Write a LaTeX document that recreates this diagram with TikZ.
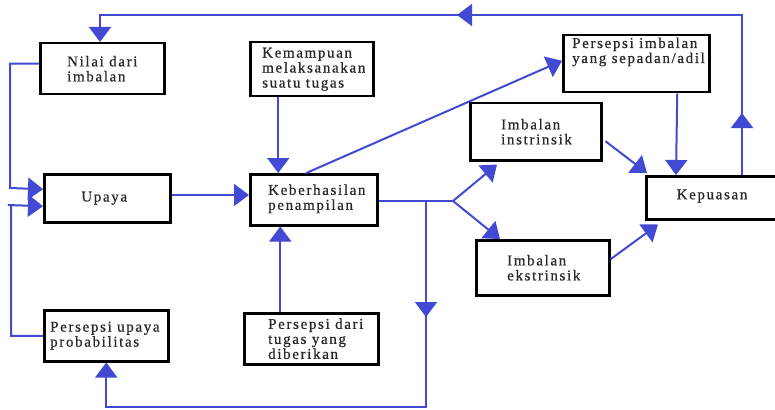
\documentclass[tikz,border=0pt]{standalone}
\usepackage{fontspec}
\setmainfont{Liberation Serif}[LetterSpace=11,FakeBold=0.6]
\usetikzlibrary{arrows.meta,decorations.markings}
\definecolor{flow}{RGB}{66,74,212}
\definecolor{ink}{RGB}{40,40,40}
\tikzset{
  x=1pt, y=-1pt,
  box/.style={draw=black, line width=2.5pt, fill=white, inner sep=0pt,
    anchor=north west},
  txt/.style={text=ink, inner sep=0pt, align=left,
    font=\fontsize{15}{15}\selectfont},
  link/.style={draw=flow, line width=2pt},
  tip/.style={-{Triangle[length=15pt,width=22pt]}},
  midtip/.style={postaction={decorate, decoration={markings,
    mark=at position #1 with {\arrow{Triangle[length=15pt,width=22pt]}}}}}
}
\begin{document}
\begin{tikzpicture}
\useasboundingbox (0,0) rectangle (775,409);

% boxes
\node[box, minimum width=124pt, minimum height=51pt] (nilai) at (39,42) {};
\node[box, minimum width=126pt, minimum height=48pt] (upaya) at (43,173) {};
\node[box, minimum width=123pt, minimum height=54pt] (kemampuan) at (249,41) {};
\node[box, minimum width=127pt, minimum height=51pt] (hasil) at (249,173) {};
\node[box, minimum width=124pt, minimum height=51pt] (probab) at (43,309) {};
\node[box, minimum width=134pt, minimum height=51pt] (tugas) at (243,312) {};
\node[box, minimum width=146pt, minimum height=57pt] (adil) at (562,34) {};
\node[box, minimum width=131pt, minimum height=57pt] (intrin) at (469,102) {};
\node[box, minimum width=133pt, minimum height=55pt] (ekstrin) at (475,239) {};
\node[box, minimum width=140pt, minimum height=43pt] (puas) at (645,175) {};

% texts
\node[txt, anchor=west] (nilaiT) at ([xshift=28pt]nilai.west) {Nilai dari\\imbalan};
\node[txt] (upayaT) at ([xshift=-3pt]upaya.center) {Upaya};
\node[txt, anchor=west] (kemampuanT) at ([xshift=13pt]kemampuan.west) {Kemampuan\\melaksanakan\\suatu tugas};
\node[txt, anchor=west] (hasilT) at ([xshift=19pt,yshift=1pt]hasil.west) {Keberhasilan\\penampilan};
\node[txt, anchor=west] (probabT) at ([xshift=7pt]probab.west) {Persepsi upaya\\probabilitas};
\node[txt, anchor=west] (tugasT) at ([xshift=25pt]tugas.west) {Persepsi dari\\tugas yang\\diberikan};
\node[txt, anchor=base west] (adilT) at (572,63) {Persepsi imbalan\\yang sepadan/adil};
\node[txt, anchor=west] (intrinT) at ([xshift=32pt]intrin.west) {Imbalan\\instrinsik};
\node[txt, anchor=west] (ekstrinT) at ([xshift=32pt]ekstrin.west) {Imbalan\\ekstrinsik};
\node[txt] (puasT) at (712,196) {Kepuasan};

% junction points
\coordinate (split) at (453,201);
\coordinate (drop) at (426,201);

% feedback into effort
\draw[link, tip] ([yshift=5pt]nilai.west) -| (10,188) -- ([yshift=9pt]upaya.west);
\draw[link, tip] (probab.west) -| (11,205) -- (8,205) -- ([yshift=-8pt]upaya.west);

% effort to performance
\draw[link, tip] (upaya.east |- 0,195) -- (hasil.west |- 0,195);
\draw[link, tip] ([xshift=-33.5pt]kemampuan.south) -- ([xshift=-35.5pt]hasil.north);
\draw[link, tip] ([xshift=-31pt]tugas.north) -- ([xshift=-33.5pt]hasil.south);
\draw[link, tip] ([xshift=-7.5pt]hasil.north) -- ([yshift=3pt]adil.west);

% performance to rewards
\draw[link] (hasil.east |- split) -- (split);
\draw[link, tip] (split) -- ([xshift=28pt,yshift=-3pt]intrin.south west);
\draw[link, tip] (split) -- ([xshift=25pt]ekstrin.north west);
\draw[link, tip, midtip=116pt] (drop) -- (426,407) -| (probab.south);

% rewards to satisfaction
\draw[link, tip] ([xshift=3pt,yshift=-9.5pt]intrin.east) -- ([xshift=2pt,yshift=2pt]puas.north west);
\draw[link, tip] ([xshift=41pt]adil.south) -- (puas.north -| 676,0);
\draw[link, tip] ([yshift=8.5pt]ekstrin.east) -- ([xshift=13pt,yshift=-4pt]puas.south west);

% satisfaction back to value of rewards
\draw[link, tip, midtip=62pt, midtip=445pt]
  (puas.north -| 742,0) -- (742,15) -| (nilai.north -| 100,0);
\end{tikzpicture}
\end{document}
